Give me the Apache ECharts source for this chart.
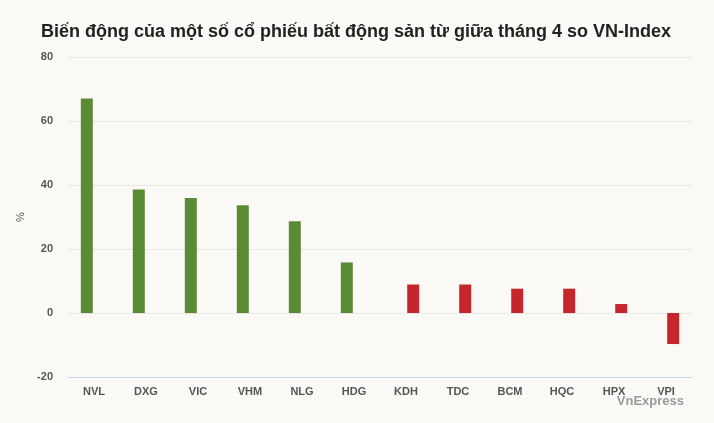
<!DOCTYPE html>
<html><head><meta charset="utf-8">
<script src="https://cdn.jsdelivr.net/npm/echarts@6/dist/echarts.min.js"></script>
<style>html,body{margin:0;padding:0;background:#faf9f6;}#c{width:714px;height:423px;}</style>
</head><body><div id="c"></div>
<script>
const categories = ['NVL','DXG','VIC','VHM','NLG','HDG','KDH','TDC','BCM','HQC','HPX','VPI'];
const outperform = [67, 38.6, 35.9, 33.7, 28.7, 15.8, null, null, null, null, null, null];
const underperform = [null, null, null, null, null, null, 8.9, 8.9, 7.6, 7.6, 2.8, -9.7];
const yTicks = { min: -20, max: 80, interval: 20 };

const chart = echarts.init(document.getElementById('c'));
chart.setOption({
  backgroundColor: '#faf9f6',
  animation: false,
  title: {
    text: 'Biến động của một số cổ phiếu bất động sản từ giữa tháng 4 so VN-Index',
    left: 36, top: 18,
    textStyle: { fontFamily: 'Liberation Sans, Arial', fontSize: 18, fontWeight: 'bold', color: '#222' }
  },
  graphic: [{
    type: 'text', right: 30, top: 395,
    style: { text: 'VnExpress', fontFamily: 'Liberation Sans, Arial', fontSize: 13, fontWeight: 'bold', fill: '#9a9a9a' }
  }],
  grid: { left: 68, right: 22, top: 57, bottom: 46 },
  xAxis: {
    type: 'category', data: categories,
    axisLine: { show: false }, axisTick: { show: false },
    axisLabel: { color: '#555', fontFamily: 'Liberation Sans, Arial', fontSize: 11, fontWeight: 'bold', margin: 9 }
  },
  yAxis: {
    type: 'value', min: yTicks.min, max: yTicks.max, interval: yTicks.interval,
    name: '%', nameLocation: 'middle', nameGap: 40, nameRotate: 90,
    nameTextStyle: { color: '#555', fontSize: 11, fontFamily: 'Liberation Sans, Arial' },
    axisLine: { show: false }, axisTick: { show: false },
    axisLabel: { color: '#555', fontFamily: 'Liberation Sans, Arial', fontSize: 11, fontWeight: 'bold', margin: 15 },
    splitLine: { lineStyle: { color: '#e6e6e6', width: 1 } }
  },
  series: [
    { type: 'bar', data: outperform, barWidth: 12, barGap: '20%', itemStyle: { color: '#5a8a34' },
      markLine: { silent: true, symbol: 'none', label: { show: false }, lineStyle: { color: '#ccd6eb', type: 'solid', width: 1 }, data: [{ yAxis: -20 }] } },
    { type: 'bar', data: underperform, barWidth: 12, barGap: '20%', itemStyle: { color: '#c4262c' } }
  ]
});
</script></body></html>
